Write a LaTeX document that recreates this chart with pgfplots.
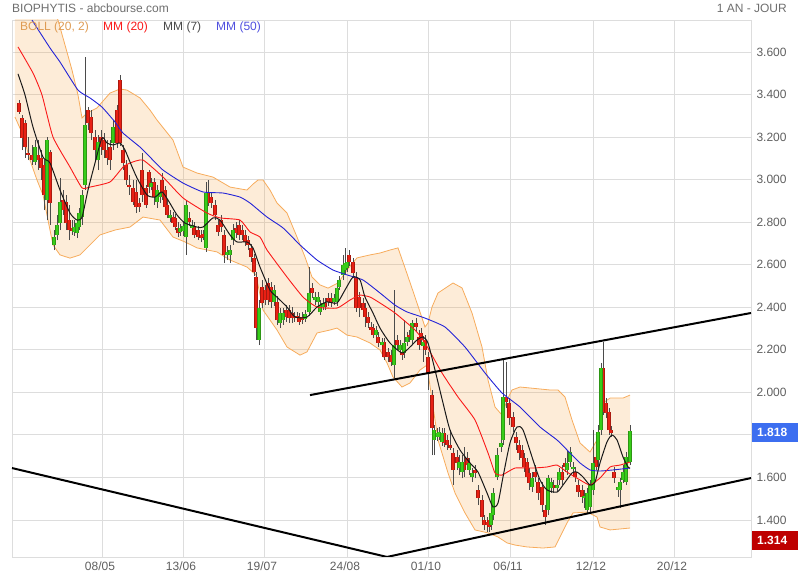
\documentclass[border=0pt]{standalone}
\usepackage{pgfplots}
\pgfplotsset{compat=1.18}
\usepackage{pgfplotstable}
\usepackage{fontspec}
\setmainfont{Liberation Sans}
\definecolor{gridgray}{RGB}{221,221,221}
\definecolor{tickgray}{RGB}{95,95,95}
\definecolor{titlegray}{RGB}{110,110,110}
\definecolor{bandline}{RGB}{247,172,92}
\definecolor{bandfill}{RGB}{245,160,60}
\definecolor{maRed}{RGB}{250,25,25}
\definecolor{maBlue}{RGB}{35,35,215}
\definecolor{maBlack}{RGB}{25,25,25}
\definecolor{redDark}{RGB}{170,25,15}
\definecolor{redBody}{RGB}{232,32,20}
\definecolor{greenDark}{RGB}{45,150,20}
\definecolor{greenBody}{RGB}{55,205,25}
\definecolor{wick}{RGB}{75,75,75}
\definecolor{lblBlue}{RGB}{60,110,240}
\definecolor{lblRed}{RGB}{190,0,0}
\pgfplotstableread{
x o h l c
19 3.360 3.374 3.309 3.318
22 3.290 3.304 3.139 3.196
25 3.266 3.280 3.102 3.153
28 3.125 3.200 3.092 3.116
32 3.116 3.163 3.069 3.092
38 3.116 3.186 3.045 3.092
41 3.102 3.139 2.998 3.055
44 3.069 3.092 2.857 2.928
50 3.130 3.139 2.787 2.890
63 2.904 2.951 2.834 2.857
66 2.895 2.928 2.763 2.796
69 2.810 2.881 2.716 2.763
72 2.773 2.810 2.740 2.758
88 3.327 3.341 3.233 3.266
91 3.294 3.327 3.186 3.219
95 3.200 3.233 3.092 3.139
101 3.200 3.233 3.116 3.153
104 3.186 3.219 3.102 3.139
107 3.139 3.186 3.069 3.102
110 3.153 3.186 3.045 3.092
117 3.327 3.351 3.149 3.172
120 3.468 3.492 3.158 3.172
123 3.139 3.163 3.045 3.078
126 3.069 3.092 2.975 2.998
129 2.975 3.022 2.928 2.965
133 2.961 2.998 2.881 2.895
136 2.942 2.998 2.843 2.871
139 2.890 2.914 2.848 2.871
142 3.045 3.125 2.895 2.928
146 2.961 2.975 2.867 2.881
149 3.036 3.045 2.937 2.965
154 2.989 3.008 2.881 2.918
162 2.998 3.031 2.904 2.918
165 2.951 2.970 2.848 2.871
167 2.881 2.904 2.820 2.834
173 2.824 2.848 2.782 2.796
175 2.820 2.838 2.763 2.777
178 2.773 2.801 2.730 2.749
189 2.820 2.848 2.782 2.801
194 2.777 2.801 2.726 2.740
198 2.763 2.782 2.716 2.730
201 2.740 2.763 2.707 2.726
203 2.744 2.763 2.716 2.730
208 2.942 2.998 2.876 2.890
211 2.918 2.942 2.867 2.890
215 2.881 2.904 2.810 2.834
218 2.787 2.810 2.735 2.754
221 2.810 2.834 2.754 2.777
224 2.740 2.763 2.608 2.646
236 2.773 2.801 2.726 2.749
239 2.787 2.810 2.716 2.740
242 2.763 2.787 2.716 2.740
245 2.740 2.763 2.688 2.707
248 2.716 2.735 2.669 2.693
251 2.679 2.697 2.613 2.636
254 2.632 2.650 2.547 2.566
256 2.542 2.566 2.246 2.302
262 2.495 2.528 2.396 2.420
265 2.481 2.505 2.410 2.434
268 2.514 2.537 2.410 2.434
271 2.495 2.519 2.396 2.425
277 2.425 2.453 2.317 2.340
286 2.387 2.410 2.331 2.354
289 2.387 2.410 2.326 2.350
292 2.373 2.401 2.326 2.350
294 2.359 2.378 2.331 2.350
297 2.359 2.378 2.331 2.350
299 2.354 2.373 2.317 2.331
302 2.354 2.378 2.321 2.340
312 2.491 2.514 2.443 2.467
325 2.420 2.443 2.387 2.401
328 2.443 2.467 2.406 2.425
331 2.443 2.467 2.401 2.420
349 2.646 2.669 2.594 2.613
353 2.613 2.632 2.537 2.561
356 2.542 2.566 2.378 2.396
359 2.448 2.472 2.354 2.396
363 2.420 2.443 2.364 2.387
365 2.396 2.420 2.307 2.354
368 2.354 2.378 2.302 2.326
371 2.307 2.331 2.270 2.293
373 2.302 2.321 2.255 2.270
378 2.260 2.284 2.213 2.232
384 2.237 2.255 2.152 2.166
388 2.190 2.208 2.143 2.166
391 2.175 2.199 2.124 2.142
397 2.246 2.270 2.199 2.222
402 2.190 2.208 2.152 2.175
409 2.270 2.293 2.237 2.260
416 2.326 2.350 2.284 2.307
419 2.260 2.293 2.199 2.222
421 2.279 2.302 2.222 2.246
425 2.246 2.270 2.175 2.199
428 2.166 2.190 2.011 2.091
432 1.987 2.011 1.705 1.832
444 1.809 1.832 1.743 1.762
447 1.776 1.799 1.729 1.752
450 1.752 1.823 1.729 1.738
453 1.715 1.738 1.564 1.635
457 1.696 1.729 1.635 1.668
464 1.672 1.743 1.602 1.635
467 1.691 1.719 1.635 1.658
475 1.635 1.658 1.597 1.621
478 1.541 1.564 1.470 1.503
482 1.494 1.517 1.390 1.414
484 1.400 1.423 1.353 1.376
487 1.390 1.414 1.343 1.376
489 1.400 1.423 1.343 1.367
506 1.978 2.143 1.926 1.954
509 1.950 1.973 1.846 1.879
513 1.884 1.907 1.813 1.837
516 1.790 1.813 1.729 1.762
519 1.752 1.776 1.682 1.715
522 1.729 1.752 1.658 1.691
524 1.691 1.715 1.625 1.649
527 1.672 1.691 1.578 1.602
529 1.621 1.644 1.541 1.574
535 1.625 1.658 1.578 1.602
538 1.578 1.597 1.494 1.527
542 1.555 1.578 1.437 1.470
545 1.447 1.470 1.376 1.414
553 1.564 1.588 1.527 1.550
562 1.625 1.658 1.564 1.588
565 1.668 1.691 1.625 1.649
575 1.625 1.649 1.578 1.602
578 1.564 1.588 1.508 1.531
582 1.541 1.564 1.480 1.508
596 1.696 1.729 1.635 1.649
603 2.114 2.237 1.893 1.907
606 1.950 1.973 1.879 1.903
609 1.907 1.926 1.799 1.823
611 1.823 1.841 1.790 1.809
614 1.625 1.649 1.574 1.597
}\redc
\pgfplotstableread{
x o h l c
35 3.083 3.186 3.069 3.153
47 2.904 3.200 2.810 3.186
54 2.693 2.763 2.669 2.730
57 2.740 2.834 2.716 2.787
60 2.796 3.008 2.763 2.895
74 2.754 2.810 2.735 2.777
77 2.749 2.834 2.726 2.796
79 2.777 2.867 2.763 2.843
82 2.824 2.951 2.787 2.928
85 2.975 3.577 2.951 3.257
98 3.092 3.210 3.045 3.177
113 3.172 3.280 3.139 3.247
151 2.965 3.008 2.951 2.984
157 2.895 2.975 2.867 2.951
160 2.918 2.961 2.890 2.942
170 2.820 2.857 2.801 2.834
180 2.754 2.791 2.735 2.773
183 2.758 2.801 2.735 2.782
186 2.730 2.904 2.646 2.881
192 2.773 2.810 2.754 2.787
206 2.679 2.989 2.660 2.937
227 2.646 2.688 2.622 2.660
230 2.646 2.693 2.608 2.669
233 2.716 2.791 2.693 2.763
259 2.246 2.434 2.222 2.396
274 2.425 2.505 2.406 2.481
280 2.326 2.396 2.302 2.373
283 2.340 2.396 2.317 2.373
305 2.345 2.387 2.331 2.368
309 2.378 2.589 2.359 2.467
315 2.434 2.472 2.410 2.448
318 2.425 2.472 2.406 2.448
320 2.378 2.434 2.364 2.410
323 2.401 2.443 2.387 2.420
334 2.425 2.462 2.410 2.443
337 2.425 2.509 2.406 2.491
339 2.495 2.547 2.481 2.528
343 2.552 2.646 2.528 2.599
345 2.575 2.679 2.556 2.608
347 2.585 2.632 2.566 2.613
376 2.270 2.312 2.255 2.293
382 2.222 2.255 2.199 2.237
394 2.128 2.481 2.067 2.222
400 2.199 2.246 2.175 2.222
404 2.185 2.340 2.161 2.232
407 2.237 2.284 2.218 2.260
412 2.246 2.340 2.227 2.326
423 2.218 2.265 2.143 2.237
434 1.776 1.846 1.705 1.823
437 1.790 1.832 1.771 1.809
439 1.790 1.837 1.776 1.814
442 1.767 1.832 1.748 1.809
459 1.644 1.705 1.611 1.672
462 1.625 1.705 1.597 1.672
469 1.635 1.691 1.611 1.668
472 1.602 1.644 1.578 1.621
491 1.376 1.456 1.353 1.433
493 1.423 1.550 1.400 1.527
497 1.602 1.738 1.588 1.705
501 1.743 1.785 1.719 1.762
503 1.776 2.152 1.752 1.978
532 1.555 1.625 1.531 1.597
548 1.447 1.611 1.423 1.597
551 1.550 1.597 1.527 1.578
557 1.550 1.588 1.531 1.564
559 1.588 1.644 1.564 1.625
567 1.635 1.729 1.611 1.668
570 1.672 1.743 1.649 1.719
573 1.639 1.672 1.621 1.649
584 1.503 1.541 1.456 1.513
587 1.447 1.550 1.433 1.527
590 1.461 1.588 1.437 1.564
593 1.541 1.823 1.517 1.668
598 1.682 1.846 1.644 1.814
601 1.823 2.138 1.799 2.114
618 1.541 1.578 1.508 1.555
620 1.541 1.597 1.456 1.578
623 1.588 1.658 1.574 1.625
626 1.578 1.719 1.564 1.696
630 1.672 1.846 1.658 1.818
}\greenc
\begin{document}
\begin{tikzpicture}
\path (0,0) rectangle (800pt,580pt);
\begin{axis}[
  at={(12pt,23pt)}, anchor=south west,
  scale only axis, width=739pt, height=537pt,
  xmin=12, xmax=751, ymin=1.2258, ymax=3.7505,
  axis line style={draw=gridgray, line width=0.8pt},
  xtick={102,183,264,347,428,510,593,674},
  xticklabels={08/05,13/06,19/07,24/08,01/10,06/11,12/12,20/12},
  ytick={1.4,1.6,1.8,2.0,2.2,2.4,2.6,2.8,3.0,3.2,3.4,3.6},
  yticklabels={1.400,1.600,{},2.000,2.200,2.400,2.600,2.800,3.000,3.200,3.400,3.600},
  yticklabel pos=right,
  major tick length=0pt,
  grid=major, major grid style={draw=gridgray, line width=0.8pt},
  tick label style={font=\fontsize{12}{14}\selectfont, text=tickgray},
  xticklabel style={xshift=-2pt, yshift=-1pt},
  yticklabel style={xshift=2pt},
]
% Bollinger band area (upper band left to right, lower band right to left)
\addplot[fill=bandfill, fill opacity=0.2, draw=none] coordinates {
(15,3.938) (30,3.915) (45,3.868) (52,3.821) (58,3.750) (65,3.633) (72,3.515) (78,3.398) (82,3.290) (87,3.313) (97,3.337) (110,3.407) (120,3.426) (127,3.421) (140,3.384) (150,3.327) (157,3.280) (165,3.233) (173,3.186) (183,3.059) (197,3.031) (213,3.012) (230,2.965) (247,2.951) (253,2.979) (258,2.998) (263,2.998) (270,2.951) (277,2.890) (287,2.843) (297,2.730) (305,2.636) (312,2.542) (320,2.505) (328,2.490) (338,2.514) (347,2.575) (357,2.632) (370,2.646) (380,2.655) (390,2.669) (398,2.679) (405,2.585) (415,2.448) (425,2.307) (428,2.326) (432,2.401) (438,2.467) (453,2.514) (462,2.491) (472,2.373) (482,2.213) (488,2.058) (495,1.931) (502,1.893) (507,1.964) (512,2.011) (520,2.025) (550,2.011) (558,2.011) (565,1.978) (572,1.870) (580,1.762) (590,1.719) (597,1.776) (603,1.950) (610,1.973) (623,1.973) (630,1.987)
(630,1.362) (610,1.353) (600,1.367) (597,1.414) (587,1.437) (573,1.433) (567,1.386) (562,1.339) (555,1.273) (543,1.268) (527,1.273) (515,1.282) (507,1.292) (498,1.320) (488,1.339) (475,1.353) (465,1.433) (455,1.527) (448,1.621) (438,1.776) (432,1.964) (427,2.128) (420,2.105) (410,2.044) (402,2.025) (393,2.072) (387,2.138) (380,2.199) (370,2.232) (357,2.260) (347,2.269) (337,2.302) (330,2.293) (317,2.279) (307,2.190) (300,2.175) (287,2.213) (277,2.293) (270,2.340) (263,2.387) (256,2.552) (247,2.589) (230,2.622) (217,2.660) (197,2.679) (185,2.707) (173,2.730) (160,2.810) (143,2.824) (130,2.777) (115,2.763) (100,2.740) (90,2.693) (80,2.646) (70,2.631) (60,2.646) (53,2.693) (48,2.810) (43,2.928) (37,2.998) (30,3.092) (23,3.210) (15,3.294)};
% Bollinger band lines
\addplot[draw=bandline, line width=0.8pt] coordinates {
(15,3.938) (30,3.915) (45,3.868) (52,3.821) (58,3.750) (65,3.633) (72,3.515) (78,3.398) (82,3.290) (87,3.313) (97,3.337) (110,3.407) (120,3.426) (127,3.421) (140,3.384) (150,3.327) (157,3.280) (165,3.233) (173,3.186) (183,3.059) (197,3.031) (213,3.012) (230,2.965) (247,2.951) (253,2.979) (258,2.998) (263,2.998) (270,2.951) (277,2.890) (287,2.843) (297,2.730) (305,2.636) (312,2.542) (320,2.505) (328,2.490) (338,2.514) (347,2.575) (357,2.632) (370,2.646) (380,2.655) (390,2.669) (398,2.679) (405,2.585) (415,2.448) (425,2.307) (428,2.326) (432,2.401) (438,2.467) (453,2.514) (462,2.491) (472,2.373) (482,2.213) (488,2.058) (495,1.931) (502,1.893) (507,1.964) (512,2.011) (520,2.025) (550,2.011) (558,2.011) (565,1.978) (572,1.870) (580,1.762) (590,1.719) (597,1.776) (603,1.950) (610,1.973) (623,1.973) (630,1.987)};
\addplot[draw=bandline, line width=0.8pt] coordinates {
(15,3.294) (23,3.210) (30,3.092) (37,2.998) (43,2.928) (48,2.810) (53,2.693) (60,2.646) (70,2.631) (80,2.646) (90,2.693) (100,2.740) (115,2.763) (130,2.777) (143,2.824) (160,2.810) (173,2.730) (185,2.707) (197,2.679) (217,2.660) (230,2.622) (247,2.589) (256,2.552) (263,2.387) (270,2.340) (277,2.293) (287,2.213) (300,2.175) (307,2.190) (317,2.279) (330,2.293) (337,2.302) (347,2.269) (357,2.260) (370,2.232) (380,2.199) (387,2.138) (393,2.072) (402,2.025) (410,2.044) (420,2.105) (427,2.128) (432,1.964) (438,1.776) (448,1.621) (455,1.527) (465,1.433) (475,1.353) (488,1.339) (498,1.320) (507,1.292) (515,1.282) (527,1.273) (543,1.268) (555,1.273) (562,1.339) (567,1.386) (573,1.433) (587,1.437) (597,1.414) (600,1.367) (610,1.353) (630,1.362)};
% wicks
\addplot[draw=none, mark=none, error bars/.cd, y dir=plus, y explicit, error mark=none, error bar style={draw=wick, line width=0.8pt}]
  table[x=x, y=l, y error expr=\thisrow{h}-\thisrow{l}] {\redc};
\addplot[draw=none, mark=none, error bars/.cd, y dir=plus, y explicit, error mark=none, error bar style={draw=wick, line width=0.8pt}]
  table[x=x, y=l, y error expr=\thisrow{h}-\thisrow{l}] {\greenc};
% red bodies
\addplot[draw=none, mark=none, error bars/.cd, y dir=plus, y explicit, error mark=none, error bar style={draw=redDark, line width=3.2pt}]
  table[x=x, y=c, y error expr=\thisrow{o}-\thisrow{c}] {\redc};
\addplot[draw=none, mark=none, error bars/.cd, y dir=plus, y explicit, error mark=none, error bar style={draw=redBody, line width=2.5pt}]
  table[x=x, y=c, y error expr=\thisrow{o}-\thisrow{c}] {\redc};
% green bodies
\addplot[draw=none, mark=none, error bars/.cd, y dir=plus, y explicit, error mark=none, error bar style={draw=greenDark, line width=3.2pt}]
  table[x=x, y=o, y error expr=\thisrow{c}-\thisrow{o}] {\greenc};
\addplot[draw=none, mark=none, error bars/.cd, y dir=plus, y explicit, error mark=none, error bar style={draw=greenBody, line width=2.5pt}]
  table[x=x, y=o, y error expr=\thisrow{c}-\thisrow{o}] {\greenc};
% MM 50
\addplot[maBlue, line width=0.9pt, smooth, tension=0.3] coordinates {
(32,3.750) (50,3.619) (60,3.553) (78,3.421) (90,3.384) (102,3.341) (115,3.271) (123,3.219) (140,3.153) (150,3.106) (163,3.045) (183,2.984) (203,2.942) (223,2.937) (240,2.918) (250,2.890) (267,2.824) (283,2.773) (300,2.693) (317,2.622) (333,2.575) (347,2.552) (363,2.528) (380,2.467) (395,2.410) (407,2.378) (425,2.349) (445,2.307) (465,2.213) (485,2.091) (502,1.997) (520,1.931) (540,1.837) (557,1.776) (570,1.715) (580,1.668) (590,1.635) (600,1.630) (613,1.635) (630,1.644)};
% MM 20
\addplot[maRed, line width=0.9pt, smooth, tension=0.3] coordinates {
(18,3.624) (33,3.501) (42,3.398) (53,3.200) (70,3.059) (82,2.961) (90,2.965) (110,2.989) (123,3.059) (130,3.078) (143,3.092) (163,3.012) (183,2.914) (207,2.843) (220,2.820) (240,2.810) (250,2.754) (260,2.730) (267,2.669) (287,2.542) (303,2.448) (317,2.401) (337,2.396) (350,2.434) (360,2.457) (370,2.448) (380,2.420) (395,2.373) (415,2.293) (425,2.232) (442,2.091) (458,1.978) (475,1.870) (488,1.715) (495,1.621) (502,1.611) (515,1.644) (533,1.644) (547,1.649) (557,1.658) (567,1.625) (580,1.588) (590,1.564) (600,1.597) (610,1.649) (620,1.658) (630,1.672)};
% MM 7
\addplot[maBlack, line width=1pt, smooth, tension=0.4] coordinates {
(18,3.497) (25,3.398) (33,3.247) (43,3.106) (50,3.078) (60,2.951) (70,2.843) (77,2.810) (82,2.824) (88,2.951) (95,3.078) (102,3.196) (107,3.172) (113,3.163) (120,3.172) (125,3.139) (130,3.083) (137,3.008) (147,2.928) (155,2.918) (162,2.942) (168,2.904) (177,2.834) (185,2.796) (197,2.777) (203,2.777) (213,2.820) (220,2.810) (230,2.740) (237,2.707) (247,2.707) (253,2.679) (260,2.589) (270,2.481) (278,2.443) (287,2.401) (295,2.354) (307,2.354) (317,2.401) (327,2.425) (337,2.420) (345,2.481) (353,2.542) (360,2.528) (365,2.448) (373,2.373) (380,2.302) (390,2.232) (402,2.185) (410,2.213) (417,2.246) (423,2.260) (428,2.232) (435,2.105) (443,1.950) (450,1.823) (460,1.729) (470,1.668) (478,1.625) (487,1.527) (493,1.461) (498,1.480) (503,1.602) (510,1.762) (517,1.837) (523,1.823) (533,1.682) (540,1.588) (547,1.541) (557,1.531) (563,1.564) (572,1.621) (577,1.625) (583,1.602) (590,1.564) (595,1.578) (600,1.668) (607,1.767) (612,1.799) (617,1.776) (623,1.696) (628,1.649) (630,1.644)};
% trend lines
\addplot[black, line width=2pt] coordinates {(310,1.987) (751,2.373)};
\addplot[black, line width=2pt] coordinates {(387,1.226) (751,1.597)};
\addplot[black, line width=2pt] coordinates {(12,1.644) (387,1.226)};
\end{axis}
% title and header
\node[anchor=west, inner sep=0pt, text=titlegray, font=\fontsize{12}{14}\selectfont] at (12pt,572pt) {BIOPHYTIS - abcbourse.com};
\node[anchor=east, inner sep=0pt, text=titlegray, font=\fontsize{12}{14}\selectfont] at (787pt,572pt) {1 AN - JOUR};
% legend
\node[anchor=west, inner sep=0pt, text=bandline!90!black, font=\fontsize{12}{14}\selectfont] at (20pt,553pt) {BOLL (20, 2)};
\node[anchor=west, inner sep=0pt, text=maRed, font=\fontsize{12}{14}\selectfont] at (103pt,553pt) {MM (20)};
\node[anchor=west, inner sep=0pt, text=maBlack!80, font=\fontsize{12}{14}\selectfont] at (163pt,553pt) {MM (7)};
\node[anchor=west, inner sep=0pt, text=maBlue!80!white, font=\fontsize{12}{14}\selectfont] at (216pt,553pt) {MM (50)};
% price labels
\node[anchor=west, fill=lblBlue, text=white, inner xsep=5pt, minimum height=19pt, text width=36pt, align=left, font=\fontsize{12}{14}\selectfont\bfseries] at (752pt,147.5pt) {1.818};
\node[anchor=west, fill=lblRed, text=white, inner xsep=5pt, minimum height=19pt, text width=36pt, align=left, font=\fontsize{12}{14}\selectfont\bfseries] at (752pt,39.5pt) {1.314};
\end{tikzpicture}
\end{document}
